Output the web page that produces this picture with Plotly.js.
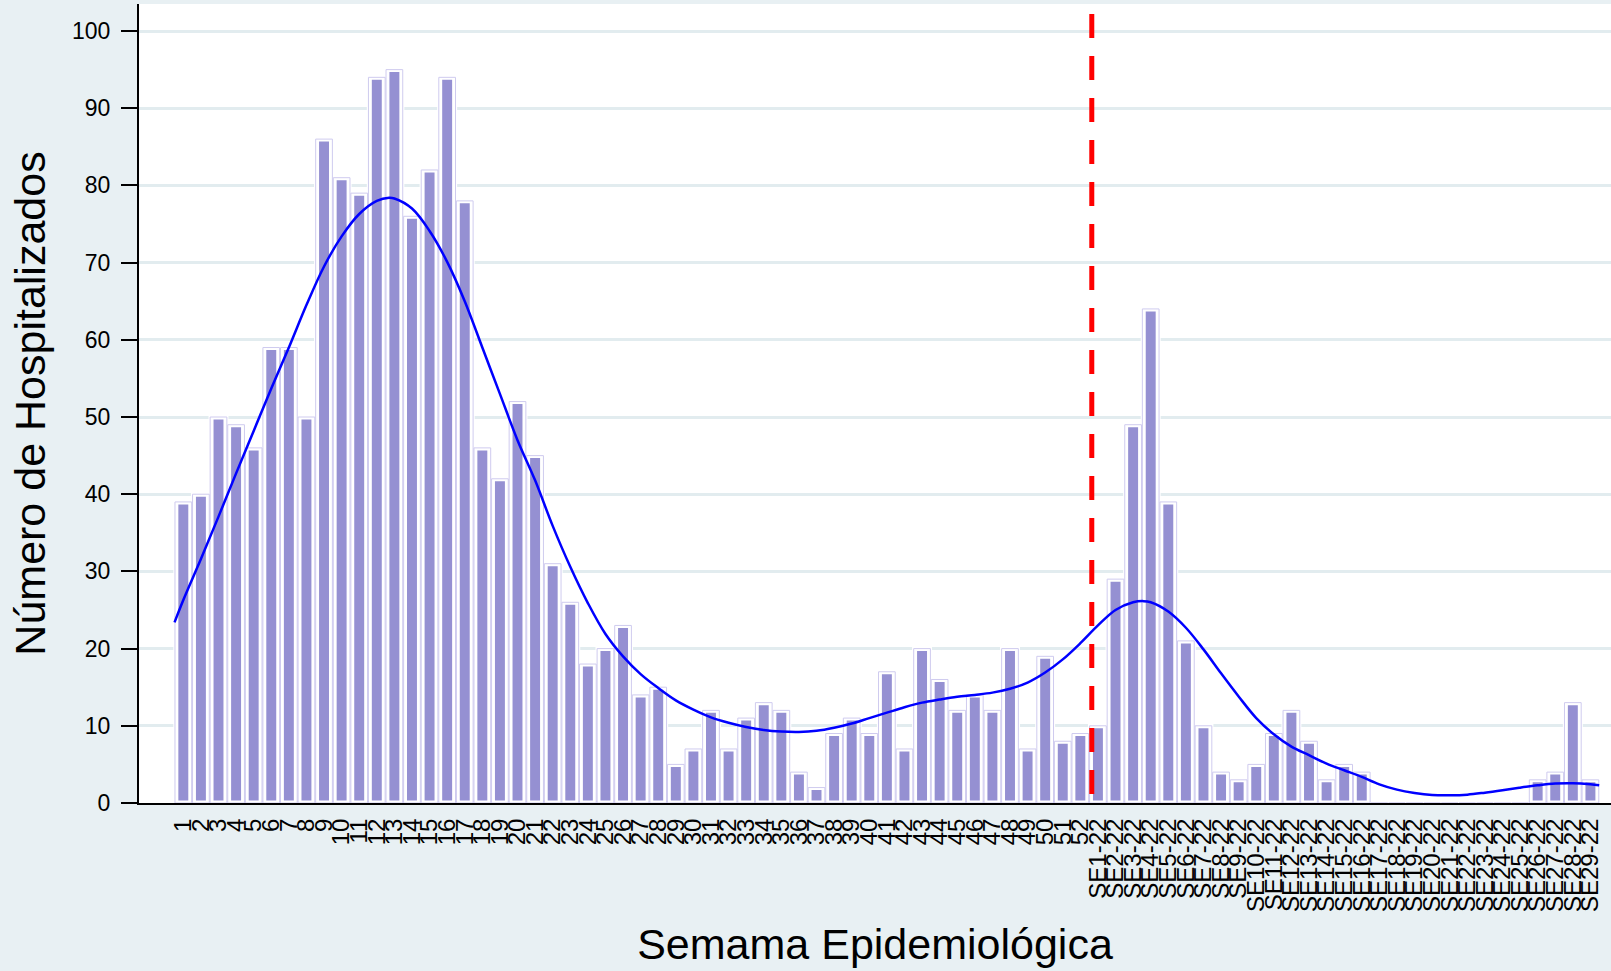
<!DOCTYPE html>
<html>
<head>
<meta charset="utf-8">
<script src="https://cdn.plot.ly/plotly-3.0.1.min.js"></script>
<style>
html,body{margin:0;padding:0;background:#e8f0f3;}
#chart{width:1611px;height:971px;}
</style>
</head>
<body>
<div id="chart"></div>
<script>
// Tick labels (epidemiological weeks)
const weekLabels = [
  "1","2","3","4","5","6","7","8","9","10","11","12","13","14","15","16","17","18","19","20",
  "21","22","23","24","25","26","27","28","29","30","31","32","33","34","35","36","37","38","39","40",
  "41","42","43","44","45","46","47","48","49","50","51","52",
  "SE1-22","SE2-22","SE3-22","SE4-22","SE5-22","SE6-22","SE7-22","SE8-22","SE9-22","SE10-22",
  "SE11-22","SE12-22","SE13-22","SE14-22","SE15-22","SE16-22","SE17-22","SE18-22","SE19-22","SE20-22",
  "SE21-22","SE22-22","SE23-22","SE24-22","SE25-22","SE26-22","SE27-22","SE28-22","SE29-22"
];

// Number of hospitalised per week
const hospitalized = [
  39,40,50,49,46,59,59,50,86,81,79,94,95,76,82,94,78,46,42,52,
  45,31,26,18,20,23,14,15,5,7,12,7,11,13,12,4,2,9,11,9,
  17,7,20,16,12,14,12,20,7,19,8,9,
  10,29,49,64,39,21,10,4,3,5,
  9,12,8,3,5,4,0,0,0,0,
  0,0,0,0,0,3,4,13,3
];

// Smoothed curve (position on week axis, value)
const smoothX = [0.5,1,2,3,4,5,6,7,8,9,10,11,12,12.7,13,14,15,16,17,18,19,20,21,22,23,24,25,26,27,28,29,30,
  31,32,33,34,35,36,37,38,39,40,41,42,43,44,45,46,47,48,49,50,51,52,53,54,55,55.6,56,57,58,59,60,
  61,62,63,64,65,66,67,68,69,70,71,72,73,74,75,76,77,78,79,80,81,81.5];
const smoothY = [23.4,26.3,31.6,37.1,42.7,48.2,53.7,59.0,64.5,69.5,73.4,76.3,78.0,78.4,78.3,77.0,74.1,70.1,65.0,59.0,53.0,47.0,41.8,35.9,30.6,25.9,21.9,19.0,16.7,14.9,13.3,12.1,
  11.1,10.4,9.85,9.45,9.25,9.2,9.35,9.75,10.3,11.0,11.7,12.4,13.0,13.4,13.75,14.0,14.3,14.8,15.6,16.9,18.6,20.7,23.0,25.0,26.0,26.15,26.0,24.8,22.7,19.9,16.8,
  13.8,11.0,8.9,7.3,6.2,5.1,4.24,3.38,2.42,1.73,1.3,1.04,1.0,1.08,1.34,1.65,1.99,2.29,2.51,2.55,2.42,2.29];

// Position of the vertical reference line (between week 52 and SE1-22)
const cutoffPosition = 52.65;

const yTicks = [0,10,20,30,40,50,60,70,80,90,100];

const positions = weekLabels.map((_, i) => i + 1);
const FONT = "Liberation Sans, Arial, Helvetica, sans-serif";

const traces = [
  {
    type: "bar",
    x: positions,
    y: hospitalized,
    width: 0.85,
    marker: {color: "#9590d2", line: {color: "#ffffff", width: 5}},
    hoverinfo: "x+y",
    showlegend: false
  },
  {
    type: "bar",
    x: positions,
    y: hospitalized,
    width: 0.95,
    marker: {color: "rgba(0,0,0,0)", line: {color: "#cfcbef", width: 1}},
    hoverinfo: "skip",
    showlegend: false
  },
  {
    type: "scatter",
    mode: "lines",
    x: smoothX,
    y: smoothY,
    line: {color: "#0000ff", width: 2.5, shape: "spline", smoothing: 1},
    hoverinfo: "skip",
    showlegend: false
  }
];

const layout = {
  width: 1611,
  height: 971,
  paper_bgcolor: "#e8f0f3",
  plot_bgcolor: "#ffffff",
  margin: {l: 139, r: 0, t: 4, b: 168},
  barmode: "overlay",
  font: {family: FONT, color: "#000000"},
  xaxis: {
    range: [-1.52, 82.17],
    tickmode: "array",
    tickvals: positions,
    ticktext: weekLabels,
    tickangle: -90,
    tickfont: {family: FONT, size: 24, color: "#000"},
    ticks: "",
    ticklabelstandoff: 4,
    showline: true,
    linecolor: "#000000",
    linewidth: 2,
    showgrid: false,
    zeroline: false,
    automargin: false,
    title: {text: "Semama Epidemiológica", font: {family: FONT, size: 43, color: "#000"}, standoff: 18}
  },
  yaxis: {
    range: [0, 103.5],
    tickmode: "array",
    tickvals: yTicks,
    ticktext: yTicks.map(String),
    tickfont: {family: FONT, size: 23, color: "#000"},
    ticks: "outside",
    ticklen: 16,
    tickwidth: 2,
    tickcolor: "#000000",
    ticklabelstandoff: 6,
    showline: true,
    linecolor: "#000000",
    linewidth: 2,
    showgrid: true,
    gridcolor: "#e2ecef",
    gridwidth: 2.5,
    zeroline: false,
    automargin: false,
    title: {text: "Número de Hospitalizados", font: {family: FONT, size: 43, color: "#000"}, standoff: 13}
  },
  shapes: [
    {
      type: "line",
      xref: "x", yref: "paper",
      x0: cutoffPosition, x1: cutoffPosition,
      y0: 0.9875, y1: 0,
      line: {color: "#ff0000", width: 5, dash: "24px,18px"},
      layer: "above"
    }
  ]
};

Plotly.newPlot("chart", traces, layout, {displayModeBar: false, responsive: false});
</script>
</body>
</html>
